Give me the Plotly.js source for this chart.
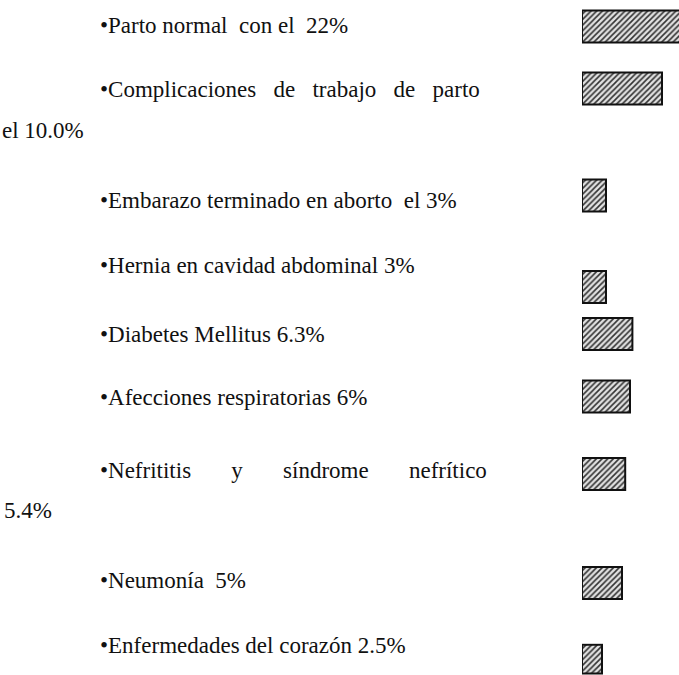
<!DOCTYPE html>
<html>
<head>
<meta charset="utf-8">
<script src="https://cdn.plot.ly/plotly-3.0.1.min.js"></script>
<style>html,body{margin:0;padding:0;background:#fff;}#chart{width:679px;height:675px;}</style>
</head>
<body>
<div id="chart"></div>
<script>
// ---- data ----
const categories = ["Parto normal", "Complicaciones de trabajo de parto", "Embarazo terminado en aborto",
  "Hernia en cavidad abdominal", "Diabetes Mellitus", "Afecciones respiratorias",
  "Nefrititis y síndrome nefrítico", "Neumonía", "Enfermedades del corazón"];
const values = [22, 10.0, 3, 3, 6.3, 6, 5.4, 5, 2.5];
const labelLines = [
  "•Parto normal\u00A0 con el\u00A0 22%",
  "•Complicaciones\u00A0\u00A0 de\u00A0\u00A0 trabajo\u00A0\u00A0 de\u00A0\u00A0 parto",
  "el 10.0%",
  "•Embarazo terminado en aborto\u00A0 el 3%",
  "•Hernia en cavidad abdominal 3%",
  "•Diabetes Mellitus 6.3%",
  "•Afecciones respiratorias 6%",
  "•Nefrititis\u00A0\u00A0\u00A0\u00A0\u00A0\u00A0 y\u00A0\u00A0\u00A0\u00A0\u00A0\u00A0 síndrome\u00A0\u00A0\u00A0\u00A0\u00A0\u00A0 nefrítico",
  "5.4%",
  "•Neumonía\u00A0 5%",
  "•Enfermedades del corazón 2.5%"
];

// ---- layout (pixels) ----
const W = 679, H = 675;
const barLeft = 582, pxPerUnit = 8;
const barCenters = [26.5, 88.5, 195.5, 287, 334, 396.5, 474, 583, 661];
const barHeight = 32;
const lineX = [98, 98, 0, 98, 98, 98, 98, 98, 2, 98, 98];
const lineY = [26, 90, 130, 200, 265, 334, 397, 470, 510, 580, 645];

const traces = categories.map((c, i) => ({
  type: 'bar', orientation: 'h',
  x: [values[i]], y: [c],
  xaxis: 'x', yaxis: i === 0 ? 'y' : 'y' + (i + 1),
  width: 0.9,
  marker: {
    color: '#d4d4d4',
    line: {color: '#111', width: 2},
    pattern: {shape: '/', fgcolor: '#333', bgcolor: '#e2e2e2', size: 4, solidity: 0.4, fillmode: 'replace'}
  },
  hoverinfo: 'skip', showlegend: false
}));

const layout = {
  width: W, height: H,
  margin: {l: 0, r: 0, t: 0, b: 0, pad: 0},
  paper_bgcolor: '#fff', plot_bgcolor: 'rgba(0,0,0,0)',
  showlegend: false,
  xaxis: {domain: [barLeft / W, 1], range: [0, (W - barLeft) / pxPerUnit], visible: false, fixedrange: true},
  annotations: labelLines.map((t, i) => ({
    text: t, xref: 'paper', yref: 'paper',
    x: lineX[i] / W, y: 1 - lineY[i] / H,
    xanchor: 'left', yanchor: 'middle', showarrow: false,
    font: {family: 'Liberation Serif, Times New Roman, serif', size: 23, color: '#111'}
  }))
};
categories.forEach((c, i) => {
  const h = barHeight / 0.9;
  let top = 1 - (barCenters[i] - h / 2) / H;
  let bot = 1 - (barCenters[i] + h / 2) / H;
  top = Math.min(1, top); bot = Math.max(0, bot);
  const key = i === 0 ? 'yaxis' : 'yaxis' + (i + 1);
  layout[key] = {domain: [bot, top], anchor: 'x', range: [-0.5, 0.5], type: 'category', visible: false, fixedrange: true};
});

Plotly.newPlot('chart', traces, layout, {staticPlot: true, displayModeBar: false});
</script>
</body>
</html>
